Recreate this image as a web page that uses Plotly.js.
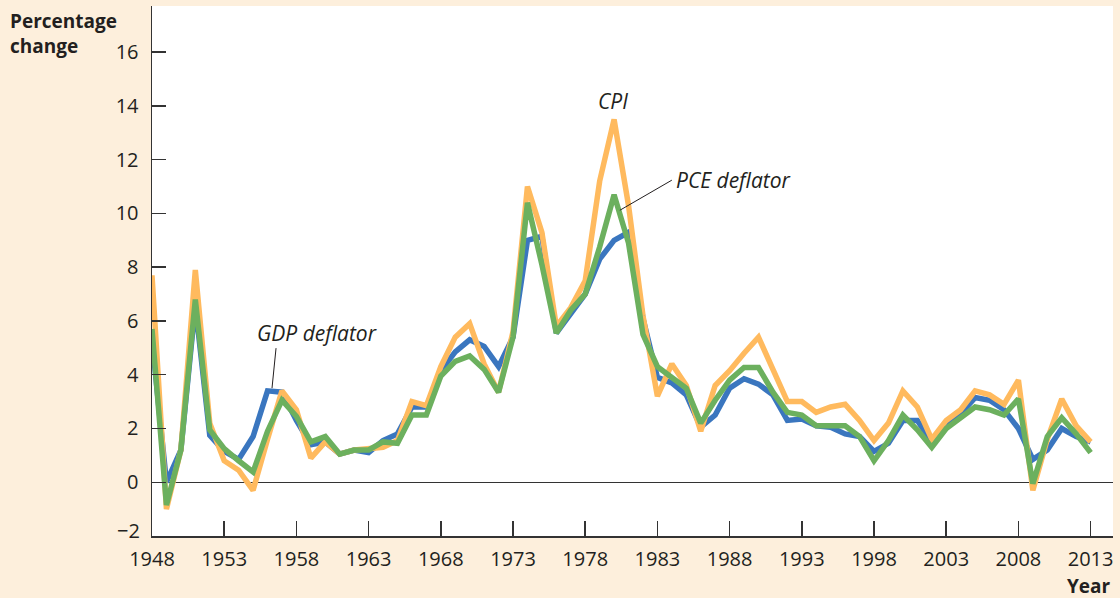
<!DOCTYPE html>
<html>
<head>
<meta charset="utf-8">
<script src="https://cdn.plot.ly/plotly-3.0.1.min.js"></script>
<style>
html,body{margin:0;padding:0;background:#fdefdc;}
#chart{width:1120px;height:598px;}
</style>
</head>
<body>
<div id="chart"></div>
<script>
const years = [];
for (let y = 1948; y <= 2013; y++) years.push(y);

const cpi = [7.7, -1.0, 1.2, 7.9, 2.2, 0.8, 0.45, -0.3, 1.6, 3.4,
  2.7, 0.9, 1.5, 1.05, 1.2, 1.25, 1.3, 1.55, 3.0, 2.85,
  4.3, 5.4, 5.9, 4.4, 3.35, 5.6, 11.0, 9.3, 5.8, 6.5,
  7.5, 11.2, 13.5, 10.3, 6.2, 3.2, 4.4, 3.6, 1.9, 3.6,
  4.15, 4.8, 5.4, 4.2, 3.0, 3.0, 2.6, 2.8, 2.9, 2.3,
  1.55, 2.2, 3.4, 2.8, 1.6, 2.3, 2.7, 3.4, 3.25, 2.9,
  3.8, -0.3, 1.6, 3.1, 2.1, 1.5];

const gdpDeflator = [5.3, 0.0, 1.2, 6.6, 1.75, 1.15, 0.85, 1.7, 3.4, 3.35,
  2.3, 1.4, 1.5, 1.05, 1.2, 1.1, 1.55, 1.8, 2.8, 2.8,
  4.15, 4.85, 5.3, 5.05, 4.3, 5.4, 9.0, 9.15, 5.55, 6.25,
  7.0, 8.3, 9.0, 9.3, 6.1, 3.9, 3.7, 3.25, 2.05, 2.5,
  3.5, 3.85, 3.65, 3.25, 2.3, 2.35, 2.1, 2.05, 1.8, 1.7,
  1.15, 1.45, 2.3, 2.3, 1.5, 2.1, 2.55, 3.15, 3.05, 2.7,
  2.0, 0.85, 1.2, 2.0, 1.7, 1.5];

const pceDeflator = [5.7, -0.85, 1.2, 6.8, 1.95, 1.25, 0.8, 0.38, 1.9, 3.05,
  2.45, 1.5, 1.7, 1.05, 1.2, 1.2, 1.5, 1.45, 2.5, 2.5,
  3.95, 4.5, 4.7, 4.2, 3.35, 5.4, 10.4, 8.1, 5.55, 6.4,
  7.0, 8.75, 10.7, 8.9, 5.5, 4.3, 3.9, 3.5, 2.2, 3.05,
  3.8, 4.27, 4.27, 3.35, 2.6, 2.5, 2.1, 2.1, 2.1, 1.7,
  0.8, 1.55, 2.5, 1.95, 1.3, 2.0, 2.4, 2.8, 2.7, 2.5,
  3.1, -0.05, 1.7, 2.4, 1.8, 1.1];

const xTickVals = [1948, 1953, 1958, 1963, 1968, 1973, 1978, 1983, 1988, 1993, 1998, 2003, 2008, 2013];
const yTickVals = [0, 2, 4, 6, 8, 10, 12, 14, 16];

const fontFam = '"Open Sans", "Noto Sans", sans-serif';
const textCol = '#231f20';

const traces = [
  {x: years, y: gdpDeflator, type: 'scatter', mode: 'lines', name: 'GDP deflator',
   line: {color: '#3a76bf', width: 5.5}},
  {x: years, y: cpi, type: 'scatter', mode: 'lines', name: 'CPI',
   line: {color: '#ffba5e', width: 5.5}},
  {x: years, y: pceDeflator, type: 'scatter', mode: 'lines', name: 'PCE deflator',
   line: {color: '#6cb05e', width: 5.5}}
];

const layout = {
  width: 1120, height: 598,
  margin: {l: 152, r: 7, t: 6, b: 62},
  paper_bgcolor: '#fdefdc',
  plot_bgcolor: '#ffffff',
  showlegend: false,
  font: {family: fontFam, color: textCol, size: 20},
  xaxis: {
    range: [1948, 2014.55],
    tickvals: xTickVals,
    ticks: 'inside', ticklen: 15, tickwidth: 1.5, tickcolor: '#333',
    showline: true, linecolor: '#333', linewidth: 1.5,
    showgrid: false, zeroline: false,
    tickfont: {family: fontFam, size: 20, color: textCol},
    ticklabelstandoff: 4
  },
  yaxis: {
    range: [-2, 17.72],
    tickvals: yTickVals,
    ticks: 'inside', ticklen: 14, tickwidth: 1.5, tickcolor: '#333',
    showline: true, linecolor: '#333', linewidth: 1.5,
    showgrid: false,
    zeroline: true, zerolinecolor: '#333', zerolinewidth: 1.5,
    tickfont: {family: fontFam, size: 20, color: textCol},
    ticklabelstandoff: 8
  },
  shapes: [
    {type: 'line', xref: 'x', yref: 'y', x0: 1984.0, y0: 11.24, x1: 1980.4, y1: 10.12,
     line: {color: '#231f20', width: 1}},
    {type: 'line', xref: 'x', yref: 'y', x0: 1956.59, y0: 4.99, x1: 1956.31, y1: 3.5,
     line: {color: '#231f20', width: 1}}
  ],
  annotations: [
    {text: '<i>CPI</i>', xref: 'x', yref: 'y', x: 1979.93, y: 14.18, showarrow: false,
     font: {family: fontFam, size: 21, color: textCol}},
    {text: '<i>PCE deflator</i>', xref: 'x', yref: 'y', x: 1984.15, y: 11.24, xanchor: 'left', showarrow: false,
     font: {family: fontFam, size: 21, color: textCol}},
    {text: '<i>GDP deflator</i>', xref: 'x', yref: 'y', x: 1959.43, y: 5.54, showarrow: false,
     font: {family: fontFam, size: 21, color: textCol}},
    {text: '<b>Percentage</b><br><b>change</b>', xref: 'paper', yref: 'paper',
     x: -0.1498, y: 1.0, xanchor: 'left', yanchor: 'top', align: 'left', showarrow: false,
     font: {family: fontFam, size: 19, color: textCol}},
    {text: '<b>Year</b>', xref: 'paper', yref: 'paper', x: 1.0, y: -0.094,
     xanchor: 'right', yanchor: 'middle', showarrow: false,
     font: {family: fontFam, size: 19, color: textCol}},
    {text: '\u22122', xref: 'paper', yref: 'y', x: -0.0104, y: -1.78,
     xanchor: 'right', yanchor: 'middle', showarrow: false,
     font: {family: fontFam, size: 20, color: textCol}}
  ]
};

Plotly.newPlot('chart', traces, layout, {displayModeBar: false, staticPlot: true});
</script>
</body>
</html>
